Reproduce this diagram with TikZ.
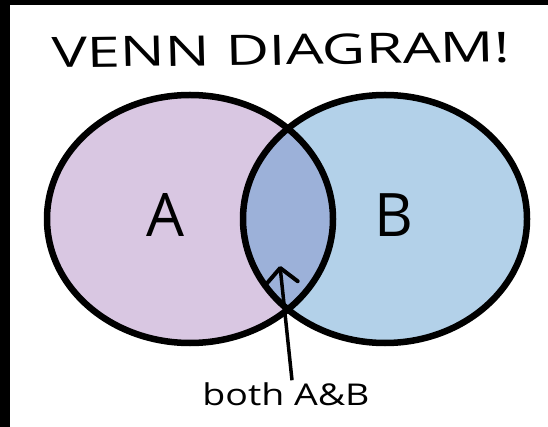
\documentclass[tikz,border=0pt]{standalone}
\usepackage{fontspec}
\setmainfont{Open Sans}
\usetikzlibrary{arrows.meta, positioning}

\definecolor{setpink}{HTML}{D9C7E2}
\definecolor{setblue}{HTML}{B3D1E9}
\definecolor{bothblue}{HTML}{9CB1D9}

\begin{document}
\begin{tikzpicture}[x=1pt, y=-1pt,
  outline/.style={draw=black, line width=6.5pt},
  setlabel/.style={font=\fontsize{60}{60}\selectfont, inner sep=0pt},
  arrow/.style={-{Straight Barb[length=15pt, width=32pt, line width=4pt, round]},
    line width=3.5pt},
]
% frame
\useasboundingbox (0,0) rectangle (548,427);
\fill[white] (0,0) rectangle (548,427);
\fill[black] (0,0) rectangle (10,427);
\fill[black] (0,0) rectangle (548,5);

\node[font=\fontsize{42}{42}\selectfont, xscale=1.42, rotate=1] (title)
  at (281,50) {VENN DIAGRAM!};

% the two sets
\fill[setpink] (190,219) ellipse [x radius=143, y radius=124];
\fill[setblue] (385,219) ellipse [x radius=142, y radius=124];
\begin{scope}
  \clip (190,219) ellipse [x radius=143, y radius=124];
  \fill[bothblue] (385,219) ellipse [x radius=142, y radius=124];
\end{scope}
\draw[outline] (190,219) ellipse [x radius=143, y radius=124];
\draw[outline] (385,219) ellipse [x radius=142, y radius=124];

\node[setlabel] (labA) at (165,215) {A};
\node[setlabel] (labB) at (394,215) {B};

\node[font=\fontsize{30}{30}\selectfont, xscale=1.25, inner sep=2pt] (both)
  at (286,394) {both A\&B};
\coordinate (lens) at (280,266);
\draw[arrow] ([xshift=6pt]both.north) -- (lens);
\end{tikzpicture}
\end{document}
